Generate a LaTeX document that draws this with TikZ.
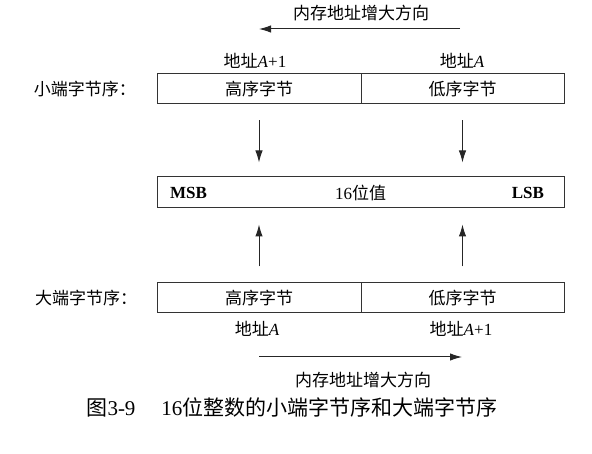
\documentclass[tikz,border=0pt]{standalone}
\usepackage{fontspec}
\setmainfont{Liberation Serif}
\newfontfamily\cjk{Noto Sans CJK SC}
\newcommand{\en}[1]{{\rmfamily #1}}
\usetikzlibrary{arrows.meta}

\begin{document}
\begin{tikzpicture}[x=1pt, y=-1pt,
  font=\cjk\fontsize{17pt}{19pt}\selectfont,
  byte/.style={draw=black!80, line width=1pt, minimum width=#1,
               minimum height=30pt, inner sep=0pt},
  byte/.default=204pt,
  arr/.style={-{Latex[length=12pt,width=7.5pt]}, line width=1pt, black!85}
]
  \useasboundingbox (0,0) rectangle (592,454);
  % little endian
  \node (tdir) at (361,13) {内存地址增大方向};
  \coordinate (ta) at (460,29);
  \coordinate (tb) at (259,29);
  \draw[arr] (ta) -- (tb);
  \node (la1) at (255,61) {地址\en{\textit{A}+1}};
  \node (la0) at (462,61) {地址\en{\textit{A}}};
  \node (lname) at (85,89) {小端字节序：};
  \node[byte]       (lhi) at (259,89)   {高序字节};
  \node[byte=203pt] (llo) at (462.5,89) {低序字节};
  % value
  \node[byte=407pt, minimum height=31pt] (val) at (360.5,192.5) {\en{16}位值};
  \node[anchor=west] (msb) at ([xshift=10pt]val.west) {\en{\textbf{MSB}}};
  \node[anchor=east] (lsb) at ([xshift=-17pt]val.east) {\en{\textbf{LSB}}};
  \draw[arr, shorten <=16pt, shorten >=14pt] (lhi.south) -- (lhi.south |- val.north);
  \draw[arr, shorten <=16pt, shorten >=14pt] (llo.south) -- (llo.south |- val.north);
  % big endian
  \node (bname) at (86,298) {大端字节序：};
  \node[byte]       (bhi) at (259,298)   {高序字节};
  \node[byte=203pt] (blo) at (462.5,298) {低序字节};
  \draw[arr, shorten <=16pt, shorten >=16pt] (bhi.north) -- (bhi.north |- val.south);
  \draw[arr, shorten <=16pt, shorten >=16pt] (blo.north) -- (blo.north |- val.south);
  \node (ba0) at (257,329) {地址\en{\textit{A}}};
  \node (ba1) at (461,329) {地址\en{\textit{A}+1}};
  \coordinate (bb) at (259,357);
  \coordinate (be) at (462,357);
  \draw[arr] (bb) -- (be);
  \node (bdir) at (363,380) {内存地址增大方向};
  % caption
  \node[font=\cjk\fontsize{21pt}{24pt}\selectfont] (cap) at (292,407)
        {图\en{3-9}\hspace{26pt}\en{16}位整数的小端字节序和大端字节序};
\end{tikzpicture}
\end{document}
